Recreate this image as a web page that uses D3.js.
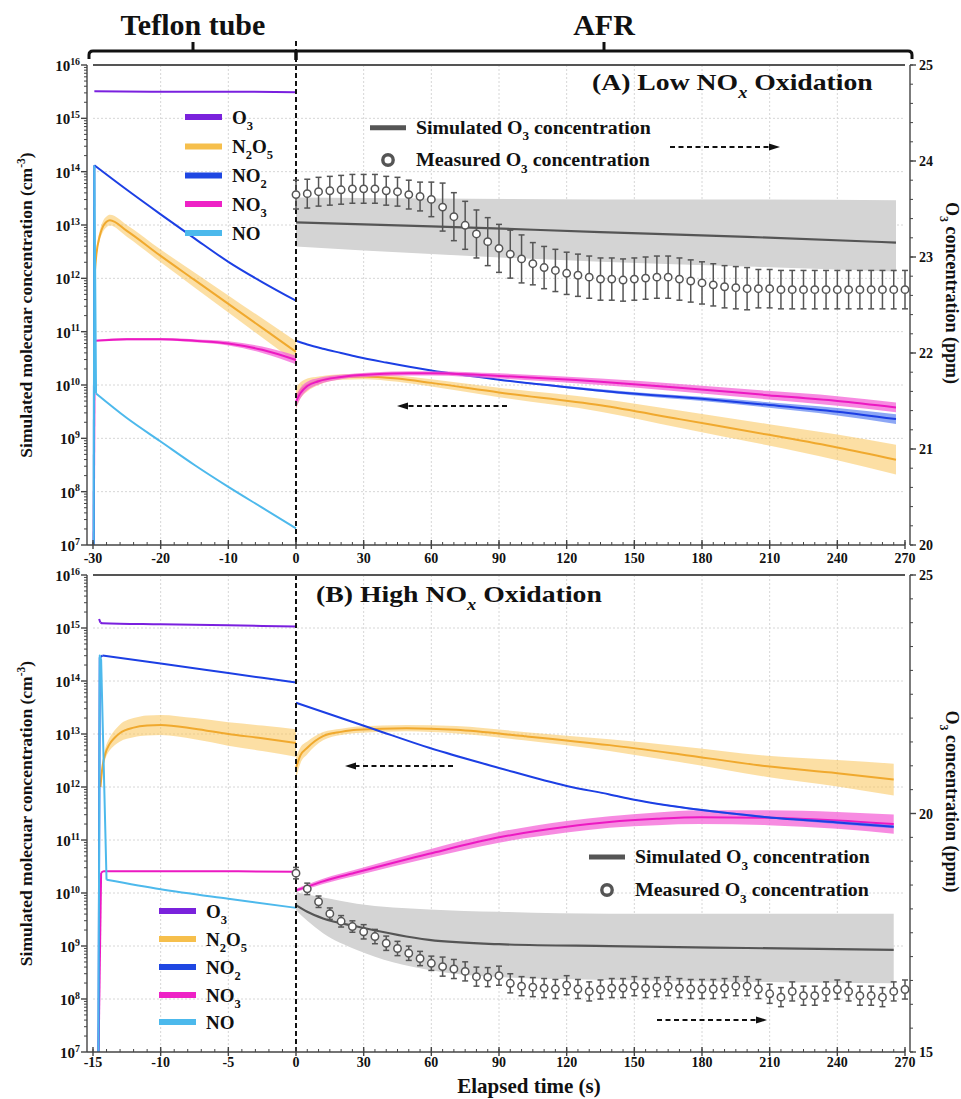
<!DOCTYPE html>
<html><head><meta charset="utf-8">
<script src="https://cdn.jsdelivr.net/npm/d3@7"></script>
<style>
body{margin:0;background:#fff}
svg{display:block}
text{font-family:"Liberation Serif","Times New Roman",Times,serif;font-weight:bold;fill:#111}
</style></head>
<body><svg id="c" width="961" height="1099"></svg>
<script>
// ===================== DATA (concentrations as log10 cm^-3, O3 in ppm) =====================
// ---- Panel A: Low NOx, Teflon tube segment ----
const tA_tef_O3 = [-29.8, -20, -10, 0];
const A_tef_O3 = [15.51, 15.50, 15.50, 15.49];
const tA_tef_NO2 = [-29.9, -29.8, -25, -20, -15, -10, -5, 0];
const A_tef_NO2 = [6.8, 14.12, 13.66, 13.20, 12.75, 12.31, 11.93, 11.58];
const tA_tef_NO = [-29.9, -29.8, -29.55, -25, -20, -15, -10, -5, 0];
const A_tef_NO = [6.8, 14.1, 9.84, 9.38, 8.94, 8.50, 8.09, 7.70, 7.31];
const tA_tef_NO3 = [-29.9, -29.75, -25, -20, -15, -10, -5, 0];
const A_tef_NO3 = [6.8, 10.83, 10.86, 10.86, 10.83, 10.78, 10.66, 10.47];
const A_tef_NO3_err = [0, 0.01, 0.02, 0.02, 0.03, 0.04, 0.06, 0.08];
const tA_tef_N2O5 = [-29.8, -29.5, -29, -28.5, -28, -27.5, -25, -20, -15, -10, -5, 0];
const A_tef_N2O5 = [12.0, 12.45, 12.8, 12.98, 13.06, 13.09, 12.89, 12.42, 11.97, 11.52, 11.07, 10.62];
const A_tef_N2O5_err = [0.04, 0.07, 0.09, 0.1, 0.1, 0.1, 0.11, 0.12, 0.14, 0.16, 0.18, 0.2];
// ---- Panel A: AFR segment ----
const tA_afr_NO2 = [0, 5, 12, 20, 27, 40, 60, 90, 120, 149, 180, 206, 240, 266];
const A_afr_NO2 = [10.83, 10.76, 10.68, 10.60, 10.53, 10.42, 10.27, 10.10, 9.96, 9.84, 9.74, 9.64, 9.50, 9.36];
const A_afr_NO2_err = [0, 0, 0, 0, 0, 0, 0, 0.01, 0.02, 0.03, 0.04, 0.05, 0.07, 0.09];
const tA_afr_NO3 = [0, 2, 5, 10, 20, 35, 50, 60, 90, 135, 170, 209, 240, 266];
const A_afr_NO3 = [9.69, 9.85, 9.98, 10.07, 10.15, 10.20, 10.22, 10.22, 10.17, 10.06, 9.95, 9.81, 9.70, 9.58];
const A_afr_NO3_err = [0.12, 0.1, 0.08, 0.06, 0.04, 0.04, 0.04, 0.04, 0.05, 0.06, 0.07, 0.08, 0.09, 0.09];
const tA_afr_N2O5 = [0, 2, 5, 10, 20, 30, 45, 60, 90, 135, 170, 209, 240, 266];
const A_afr_N2O5 = [9.75, 9.90, 10.00, 10.08, 10.15, 10.16, 10.12, 10.04, 9.86, 9.62, 9.36, 9.07, 8.83, 8.60];
const A_afr_N2O5_err = [0.2, 0.15, 0.12, 0.08, 0.05, 0.05, 0.06, 0.07, 0.09, 0.12, 0.16, 0.2, 0.24, 0.28];
const tA_simO3 = [0, 60, 135, 200, 266];
const A_simO3 = [23.36, 23.32, 23.26, 23.21, 23.15];
const A_simO3_hi = [23.62, 23.61, 23.60, 23.60, 23.59];
const A_simO3_lo = [23.11, 23.03, 22.95, 22.90, 22.85];
const tMeas = [0,5,10,15,20,25,30,35,40,45,50,55,60,65,70,75,80,85,90,95,100,105,110,115,120,125,130,135,140,145,150,155,160,165,170,175,180,185,190,195,200,205,210,215,220,225,230,235,240,245,250,255,260,265,270];
const A_measO3 = [23.65,23.66,23.68,23.69,23.70,23.71,23.71,23.71,23.69,23.68,23.65,23.63,23.60,23.52,23.42,23.33,23.24,23.16,23.09,23.03,22.98,22.93,22.89,22.86,22.83,22.81,22.79,22.77,22.77,22.76,22.77,22.78,22.79,22.79,22.77,22.75,22.73,22.71,22.69,22.68,22.67,22.67,22.67,22.66,22.66,22.66,22.66,22.66,22.66,22.66,22.66,22.66,22.66,22.66,22.66];
const A_measO3_err = [0.15,0.15,0.15,0.15,0.15,0.15,0.15,0.15,0.15,0.15,0.15,0.15,0.18,0.25,0.25,0.25,0.25,0.25,0.25,0.25,0.25,0.22,0.22,0.22,0.22,0.22,0.22,0.22,0.22,0.22,0.22,0.22,0.22,0.22,0.22,0.22,0.22,0.22,0.22,0.22,0.22,0.2,0.2,0.2,0.2,0.2,0.2,0.2,0.2,0.2,0.2,0.2,0.2,0.2,0.2];

// ---- Panel B: High NOx, Teflon tube segment ----
const tB_tef_O3 = [-14.55, -14.45, -14.3, -10, -5, 0];
const B_tef_O3 = [15.17, 15.10, 15.09, 15.07, 15.05, 15.03];
const tB_tef_NO2 = [-14.6, -14.5, -14.3, -10, -5, 0];
const B_tef_NO2 = [6.8, 14.44, 14.48, 14.33, 14.15, 13.97];
const tB_tef_NO = [-14.6, -14.5, -14.4, -14.0, -10, -5, 0];
const B_tef_NO = [6.8, 14.48, 14.4, 10.25, 10.07, 9.89, 9.72];
const tB_tef_NO3 = [-14.6, -14.4, -14.2, -10, -5, 0];
const B_tef_NO3 = [6.8, 10.38, 10.41, 10.41, 10.41, 10.40];
const tB_tef_N2O5 = [-14.45, -14.3, -14.1, -13.8, -13.4, -13, -12, -11, -10, -7.5, -5, -2.5, 0];
const B_tef_N2O5 = [12.0, 12.38, 12.62, 12.8, 12.93, 13.02, 13.12, 13.16, 13.17, 13.10, 13.00, 12.92, 12.83];
const B_tef_N2O5_err = [0.05, 0.08, 0.1, 0.12, 0.14, 0.16, 0.18, 0.19, 0.19, 0.2, 0.22, 0.24, 0.26];
// ---- Panel B: AFR segment ----
const tB_afr_NO2 = [0, 34, 59, 90, 120, 139, 150, 179, 209, 240, 265];
const B_afr_NO2 = [13.59, 13.10, 12.74, 12.36, 12.02, 11.86, 11.76, 11.57, 11.43, 11.33, 11.25];
const B_afr_NO2_err = [0, 0, 0, 0, 0, 0.01, 0.01, 0.02, 0.02, 0.03, 0.03];
const tB_afr_NO3 = [0, 5, 12, 27, 59, 90, 120, 139, 160, 179, 209, 240, 265];
const B_afr_NO3 = [10.05, 10.12, 10.22, 10.39, 10.74, 11.05, 11.25, 11.34, 11.40, 11.43, 11.42, 11.37, 11.30];
const B_afr_NO3_err = [0.03, 0.04, 0.05, 0.06, 0.08, 0.1, 0.11, 0.11, 0.12, 0.13, 0.14, 0.16, 0.18];
const tB_afr_N2O5 = [0, 2, 5, 12, 20, 27, 49, 71, 101, 139, 170, 209, 240, 265];
const B_afr_N2O5 = [12.36, 12.6, 12.74, 12.96, 13.04, 13.08, 13.11, 13.08, 12.96, 12.79, 12.62, 12.39, 12.26, 12.14];
const B_afr_N2O5_err = [0.2, 0.15, 0.12, 0.08, 0.06, 0.06, 0.06, 0.07, 0.08, 0.11, 0.15, 0.2, 0.25, 0.3];
const tB_simO3 = [0, 5, 12, 27, 59, 90, 139, 200, 265];
const B_simO3 = [18.08, 17.94, 17.80, 17.63, 17.35, 17.26, 17.22, 17.18, 17.14];
const B_simO3_hi = [18.35, 18.30, 18.24, 18.11, 17.99, 17.94, 17.90, 17.90, 17.90];
const B_simO3_lo = [17.97, 17.75, 17.49, 17.14, 16.72, 16.57, 16.51, 16.47, 16.44];
const B_measO3 = [18.75,18.42,18.15,17.90,17.74,17.63,17.52,17.42,17.28,17.17,17.07,16.96,16.86,16.79,16.74,16.69,16.58,16.57,16.60,16.44,16.38,16.36,16.34,16.32,16.40,16.32,16.27,16.31,16.34,16.34,16.38,16.34,16.36,16.38,16.34,16.32,16.32,16.32,16.34,16.38,16.38,16.32,16.22,16.15,16.27,16.18,16.18,16.27,16.31,16.27,16.18,16.18,16.15,16.27,16.31];
const B_measO3_err = [0.12,0.12,0.12,0.12,0.12,0.12,0.15,0.15,0.15,0.15,0.15,0.15,0.15,0.2,0.2,0.2,0.2,0.2,0.2,0.2,0.2,0.2,0.2,0.2,0.2,0.2,0.2,0.2,0.2,0.2,0.2,0.2,0.2,0.2,0.2,0.2,0.2,0.2,0.2,0.2,0.2,0.2,0.2,0.2,0.2,0.2,0.2,0.2,0.2,0.2,0.2,0.2,0.2,0.2,0.2];

// ---- axis ticks / labels ----
const logDecades = [7, 8, 9, 10, 11, 12, 13, 14, 15, 16];
const A_leftTicks = [-30, -20, -10, 0];
const B_leftTicks = [-15, -10, -5, 0];
const rightTicks = [30, 60, 90, 120, 150, 180, 210, 240, 270];
const A_ppmTicks = [20, 21, 22, 23, 24, 25];
const B_ppmTicks = [15, 20, 25];
const speciesNames = ['O3', 'N2O5', 'NO2', 'NO3', 'NO'];

// ===================== STYLE =====================
const C = {O3:'#7a20df', N2O5:'#f0a92e', NO2:'#1c3fe4', NO3:'#ec19c2', NO:'#4db9ec',
  N2O5band:'rgba(250,196,90,0.55)', NO3band:'rgba(244,100,215,0.75)', NO2band:'rgba(80,120,240,0.65)',
  sim:'#555', simBand:'#d4d4d4'};
const legendColor = {O3:'#7a22dc', N2O5:'#f6bf4c', NO2:'#1f47e2', NO3:'#ee22c6', NO:'#4cb9ec'};
const subParts = {O3:[['O'],['3','sub']], N2O5:[['N'],['2','sub'],['O'],['5','sub']], NO2:[['NO'],['2','sub']], NO3:[['NO'],['3','sub']], NO:[['NO']]};

const svg = d3.select('#c');

function rich(sel, parts, fs){
  let shift = 0;
  parts.forEach(p => {
    const target = p[1]==='sub' ? fs*0.32 : p[1]==='sup' ? -fs*0.42 : 0;
    const ts = sel.append('tspan').text(p[0]).attr('dy', target - shift);
    if (p[1]) ts.attr('font-size', fs*0.66);
    if (p[2]) ts.attr('font-style', 'italic');
    shift = target;
  });
  return sel;
}
function fit(sel, x0, target){
  const w = sel.node().getComputedTextLength();
  if (w > 0) sel.attr('transform', `translate(${x0},0) scale(${target/w},1) translate(${-x0},0)`);
}
function arrow(x1, x2, y){
  const dir = x2 > x1 ? 1 : -1;
  svg.append('line').attr('x1', x1).attr('x2', x2 - dir*7).attr('y1', y).attr('y2', y)
    .attr('stroke', '#111').attr('stroke-width', 2).attr('stroke-dasharray', '5,3.5');
  svg.append('path').attr('d', `M${x2},${y}L${x2-dir*11},${y-3.6}L${x2-dir*11},${y+3.6}Z`).attr('fill', '#111');
}

const xR = d3.scaleLinear().domain([0, 270]).range([296, 905]);

function drawPanel(P){
  const g = svg.append('g');
  const clipId = 'clip' + P.id;
  svg.append('clipPath').attr('id', clipId).append('rect')
    .attr('x', 88).attr('y', P.top).attr('width', 818).attr('height', P.bot - P.top);
  // grid
  const grid = g.append('g').attr('stroke', '#d6d6d6').attr('stroke-width', 1).attr('stroke-dasharray', '2,2');
  logDecades.slice(1, -1).forEach(k => grid.append('line').attr('x1', 93).attr('x2', 905).attr('y1', P.y(10**k)).attr('y2', P.y(10**k)));
  P.leftTicks.slice(1, -1).forEach(t => grid.append('line').attr('x1', P.xL(t)).attr('x2', P.xL(t)).attr('y1', P.top).attr('y2', P.bot));
  rightTicks.slice(0, -1).forEach(t => grid.append('line').attr('x1', xR(t)).attr('x2', xR(t)).attr('y1', P.top).attr('y2', P.bot));

  const plot = g.append('g').attr('clip-path', `url(#${clipId})`);
  // simulated O3 band + line (right axis)
  const sim = P.simT.map((t, i) => ({t, v:P.sim[i], lo:P.simLo[i], hi:P.simHi[i]}));
  plot.append('path').datum(sim).attr('fill', C.simBand)
    .attr('d', d3.area().x(d => xR(d.t)).y0(d => P.yR(d.lo)).y1(d => P.yR(d.hi)).curve(d3.curveMonotoneX));
  plot.append('path').datum(sim).attr('fill', 'none').attr('stroke', C.sim).attr('stroke-width', 2.2)
    .attr('d', d3.line().x(d => xR(d.t)).y(d => P.yR(d.v)).curve(d3.curveMonotoneX));

  P.series.forEach(s => {
    const xs = s.seg === 'L' ? P.xL : xR;
    const pts = s.t.map((t, i) => ({t, v:s.v[i], e:s.err ? s.err[i] : 0}));
    if (s.err) plot.append('path').datum(pts).attr('fill', s.band)
      .attr('d', d3.area().x(d => xs(d.t)).y0(d => P.y(10**(d.v - d.e))).y1(d => P.y(10**(d.v + d.e))).curve(d3.curveMonotoneX));
    const lin = s.lin || 0;
    const ln = d3.line().x(d => xs(d.t)).y(d => P.y(10**d.v));
    if (lin > 0) plot.append('path').datum(pts.slice(0, lin + 1)).attr('fill', 'none').attr('stroke', s.color).attr('stroke-width', 2)
      .attr('stroke-linejoin', 'round').attr('d', ln.curve(d3.curveLinear));
    plot.append('path').datum(pts.slice(lin)).attr('fill', 'none').attr('stroke', s.color).attr('stroke-width', 2)
      .attr('d', ln.curve(d3.curveMonotoneX));
  });

  // dashed separator
  g.append('line').attr('x1', 296).attr('x2', 296).attr('y1', P.dashTop).attr('y2', P.bot)
    .attr('stroke', '#111').attr('stroke-width', 2).attr('stroke-dasharray', '5,3');

  // measured O3 with error bars
  const m = g.append('g').attr('stroke', '#555').attr('stroke-width', 1.5);
  tMeas.forEach((t, i) => {
    const x = xR(t), v = P.meas[i], e = P.measErr[i];
    m.append('line').attr('x1', x).attr('x2', x).attr('y1', P.yR(v - e)).attr('y2', P.yR(v + e));
    m.append('line').attr('x1', x - 3).attr('x2', x + 3).attr('y1', P.yR(v - e)).attr('y2', P.yR(v - e));
    m.append('line').attr('x1', x - 3).attr('x2', x + 3).attr('y1', P.yR(v + e)).attr('y2', P.yR(v + e));
  });
  tMeas.forEach((t, i) => m.append('circle').attr('cx', xR(t)).attr('cy', P.yR(P.meas[i])).attr('r', 3.7).attr('fill', '#fff'));

  // frame top line
  g.append('line').attr('x1', 93).attr('x2', 905).attr('y1', P.top).attr('y2', P.top).attr('stroke', '#555').attr('stroke-width', 2);
  // left axis
  const ax = g.append('g').attr('stroke', '#444').attr('stroke-width', 1.4);
  ax.append('line').attr('x1', 87).attr('x2', 87).attr('y1', P.top).attr('y2', P.bot);
  logDecades.forEach(k => {
    ax.append('line').attr('x1', 81).attr('x2', 87).attr('y1', P.y(10**k)).attr('y2', P.y(10**k));
    if (k < 16) for (let j = 2; j <= 9; j++) ax.append('line').attr('x1', 84).attr('x2', 87).attr('y1', P.y(j*10**k)).attr('y2', P.y(j*10**k)).attr('stroke-width', 1);
    const tx = g.append('text').attr('x', 80).attr('y', P.y(10**k) + 6).attr('text-anchor', 'end').attr('font-size', 15);
    rich(tx, [['10'], [String(k), 'sup']], 15);
  });
  // bottom axis
  ax.append('line').attr('x1', 87).attr('x2', 905).attr('y1', P.bot).attr('y2', P.bot);
  const [l0, l1] = P.xL.domain();
  for (let t = l0; t <= l1 + 1e-9; t += P.leftMinor) ax.append('line').attr('x1', P.xL(t)).attr('x2', P.xL(t)).attr('y1', P.bot - 3).attr('y2', P.bot).attr('stroke-width', 1);
  for (let t = 5; t <= 270; t += 5) ax.append('line').attr('x1', xR(t)).attr('x2', xR(t)).attr('y1', P.bot - 3).attr('y2', P.bot).attr('stroke-width', 1);
  P.leftTicks.concat(rightTicks).forEach((t, i) => {
    const x = i < P.leftTicks.length ? P.xL(t) : xR(t);
    ax.append('line').attr('x1', x).attr('x2', x).attr('y1', P.bot - 5).attr('y2', P.bot + 4);
    g.append('text').attr('x', x).attr('y', P.bot + P.labOff).attr('text-anchor', 'middle').attr('font-size', 14).text(t);
  });
  // right axis
  ax.append('line').attr('x1', 910).attr('x2', 910).attr('y1', P.top).attr('y2', P.bot);
  const [r0, r1] = P.yR.domain();
  for (let v = r0; v <= r1 + 1e-9; v += P.ppmMinor) ax.append('line').attr('x1', 910).attr('x2', 913).attr('y1', P.yR(v)).attr('y2', P.yR(v)).attr('stroke-width', 1);
  P.ppmTicks.forEach(v => {
    ax.append('line').attr('x1', 910).attr('x2', 916).attr('y1', P.yR(v)).attr('y2', P.yR(v));
    g.append('text').attr('x', 919).attr('y', P.yR(v) + 5).attr('font-size', 14).text(v);
  });
  // axis titles
  const mid = (P.top + P.bot) / 2;
  const lt = g.append('text').attr('transform', `translate(32,${mid}) rotate(-90)`).attr('text-anchor', 'middle').attr('font-size', 17.5);
  rich(lt, [['Simulated molecuar concentration (cm'], ['-3', 'sup'], [')']], 17.5);
  const rt = g.append('text').attr('transform', `translate(946,${mid - 12}) rotate(90)`).attr('text-anchor', 'middle').attr('font-size', 18);
  rich(rt, [['O'], ['3', 'sub'], [' concentration (ppm)']], 18);

  // species legend
  speciesNames.forEach((n, i) => {
    const yy = P.legRows[i];
    g.append('line').attr('x1', P.legX).attr('x2', P.legX + 37).attr('y1', yy).attr('y2', yy).attr('stroke', legendColor[n]).attr('stroke-width', 6);
    const tx = g.append('text').attr('x', P.legX + 47).attr('y', yy + 6.5).attr('font-size', 19);
    rich(tx, subParts[n], 19);
  });
  // O3 legend
  g.append('line').attr('x1', P.o3Leg[0]).attr('x2', P.o3Leg[0] + 36).attr('y1', P.o3Leg[1]).attr('y2', P.o3Leg[1]).attr('stroke', '#555').attr('stroke-width', 5);
  g.append('circle').attr('cx', P.o3Leg[0] + 18).attr('cy', P.o3Leg[2]).attr('r', 5.2).attr('fill', '#fff').attr('stroke', '#555').attr('stroke-width', 3.4);
  const s1 = g.append('text').attr('x', P.o3Leg[0] + 46).attr('y', P.o3Leg[1] + 6.5).attr('font-size', 19);
  rich(s1, [['Simulated O'], ['3', 'sub'], [' concentration']], 19);
  fit(s1, P.o3Leg[0] + 46, 235);
  const s2 = g.append('text').attr('x', P.o3Leg[0] + 46).attr('y', P.o3Leg[2] + 6.5).attr('font-size', 19);
  rich(s2, [['Measured O'], ['3', 'sub'], [' concentration']], 19);
  fit(s2, P.o3Leg[0] + 46, 234);
  // panel title
  const tt = g.append('text').attr('x', P.title[0]).attr('y', P.title[1]).attr('font-size', 24);
  rich(tt, [[P.titleText + ' NO'], ['x', 'sub', true], [' Oxidation']], 24);
  fit(tt, P.title[0], P.title[2]);
  arrow(P.arrL[0], P.arrL[1], P.arrL[2]);
  arrow(P.arrR[0], P.arrR[1], P.arrR[2]);
}

const yA = d3.scaleLog().domain([1e7, 1e16]).range([545, 65]);
const yB = d3.scaleLog().domain([1e7, 1e16]).range([1052, 575]);

drawPanel({
  id:'A', top:65, bot:545, dashTop:41, labOff:18,
  xL:d3.scaleLinear().domain([-30, 0]).range([93, 296]), leftTicks:A_leftTicks, leftMinor:2,
  y:yA, yR:d3.scaleLinear().domain([20, 25]).range([545, 65]), ppmTicks:A_ppmTicks, ppmMinor:0.2,
  simT:tA_simO3, sim:A_simO3, simLo:A_simO3_lo, simHi:A_simO3_hi, meas:A_measO3, measErr:A_measO3_err,
  series:[
    {seg:'L', t:tA_tef_O3, v:A_tef_O3, color:C.O3},
    {seg:'L', t:tA_tef_N2O5, v:A_tef_N2O5, err:A_tef_N2O5_err, color:C.N2O5, band:C.N2O5band},
    {seg:'L', t:tA_tef_NO3, v:A_tef_NO3, err:A_tef_NO3_err, color:C.NO3, band:C.NO3band, lin:1},
    {seg:'L', t:tA_tef_NO2, v:A_tef_NO2, color:C.NO2, lin:1},
    {seg:'L', t:tA_tef_NO, v:A_tef_NO, color:C.NO, lin:2},
    {seg:'R', t:tA_afr_N2O5, v:A_afr_N2O5, err:A_afr_N2O5_err, color:C.N2O5, band:C.N2O5band},
    {seg:'R', t:tA_afr_NO2, v:A_afr_NO2, err:A_afr_NO2_err, color:C.NO2, band:C.NO2band},
    {seg:'R', t:tA_afr_NO3, v:A_afr_NO3, err:A_afr_NO3_err, color:C.NO3, band:C.NO3band}
  ],
  legX:185, legRows:[117, 146.5, 175.5, 204, 233],
  o3Leg:[370, 127.7, 160],
  title:[592, 90, 281], titleText:'(A) Low',
  arrL:[507, 397, 406], arrR:[670, 780, 147]
});
drawPanel({
  id:'B', top:575, bot:1052, dashTop:575, labOff:15,
  xL:d3.scaleLinear().domain([-15, 0]).range([93, 296]), leftTicks:B_leftTicks, leftMinor:1,
  y:yB, yR:d3.scaleLinear().domain([15, 25]).range([1052, 575]), ppmTicks:B_ppmTicks, ppmMinor:0.5,
  simT:tB_simO3, sim:B_simO3, simLo:B_simO3_lo, simHi:B_simO3_hi, meas:B_measO3, measErr:B_measO3_err,
  series:[
    {seg:'L', t:tB_tef_O3, v:B_tef_O3, color:C.O3, lin:1},
    {seg:'L', t:tB_tef_N2O5, v:B_tef_N2O5, err:B_tef_N2O5_err, color:C.N2O5, band:C.N2O5band},
    {seg:'L', t:tB_tef_NO3, v:B_tef_NO3, color:C.NO3, lin:1},
    {seg:'L', t:tB_tef_NO2, v:B_tef_NO2, color:C.NO2, lin:2},
    {seg:'L', t:tB_tef_NO, v:B_tef_NO, color:C.NO, lin:3},
    {seg:'R', t:tB_afr_N2O5, v:B_afr_N2O5, err:B_afr_N2O5_err, color:C.N2O5, band:C.N2O5band},
    {seg:'R', t:tB_afr_NO3, v:B_afr_NO3, err:B_afr_NO3_err, color:C.NO3, band:C.NO3band},
    {seg:'R', t:tB_afr_NO2, v:B_afr_NO2, err:B_afr_NO2_err, color:C.NO2, band:C.NO2band}
  ],
  legX:159, legRows:[911, 939, 967, 995, 1022],
  o3Leg:[589, 857, 890],
  title:[316, 602, 286], titleText:'(B) High',
  arrL:[453, 345, 766], arrR:[657, 767, 1020]
});

// ===================== header bracket =====================
const hb = svg.append('g').attr('stroke', '#111').attr('stroke-width', 3).attr('fill', 'none');
hb.append('path').attr('d', 'M89,59 L89,55 Q89,51 93,51 L908,51 Q912,51 912,55 L912,59');
hb.append('line').attr('x1', 193).attr('x2', 193).attr('y1', 51).attr('y2', 42);
hb.append('line').attr('x1', 604).attr('x2', 604).attr('y1', 51).attr('y2', 42);
hb.append('line').attr('x1', 296).attr('x2', 296).attr('y1', 50).attr('y2', 60).attr('stroke-width', 3.5);
svg.append('text').attr('x', 193).attr('y', 35).attr('text-anchor', 'middle').attr('font-size', 30).text('Teflon tube');
svg.append('text').attr('x', 604).attr('y', 35).attr('text-anchor', 'middle').attr('font-size', 30).text('AFR');
svg.append('text').attr('x', 529).attr('y', 1093).attr('text-anchor', 'middle').attr('font-size', 21).text('Elapsed time (s)');
</script></body></html>
